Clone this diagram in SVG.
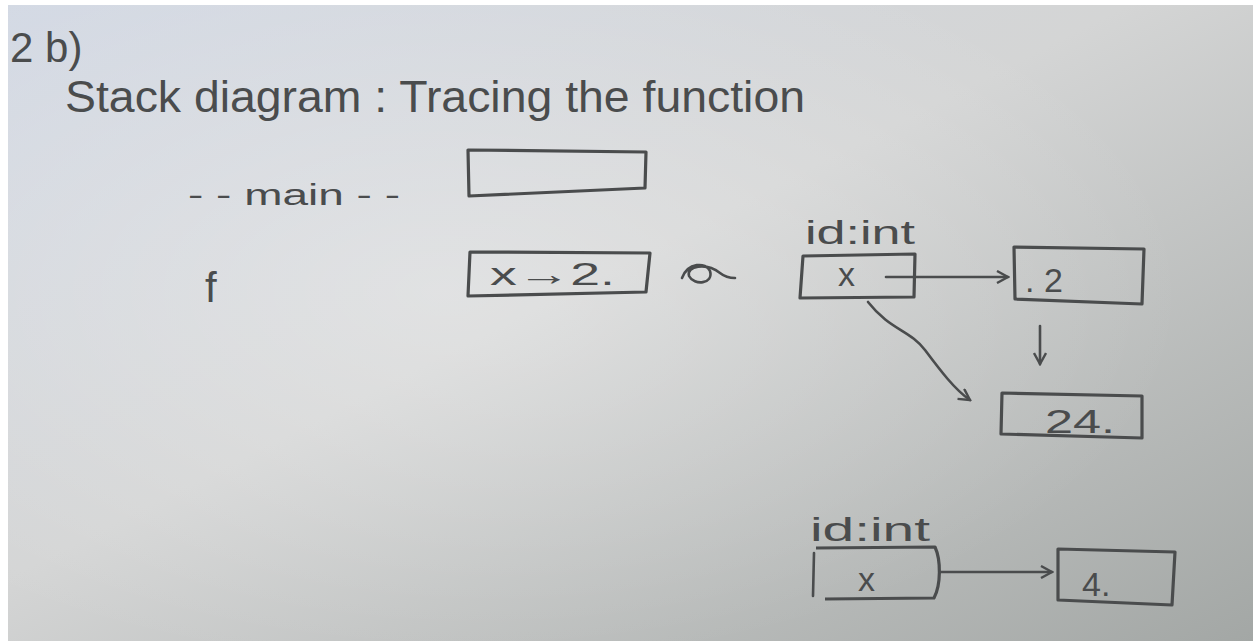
<svg xmlns="http://www.w3.org/2000/svg" width="1253" height="641" viewBox="0 0 1253 641">
<defs>
<linearGradient id="paper" x1="0" y1="0" x2="1" y2="1">
<stop offset="0" stop-color="#d3d9e4"/>
<stop offset="0.45" stop-color="#d4d5d5"/>
<stop offset="1" stop-color="#a3a7a5"/>
</linearGradient>
<radialGradient id="glow" cx="0.35" cy="0.45" r="0.6">
<stop offset="0" stop-color="#ffffff" stop-opacity="0.3"/>
<stop offset="1" stop-color="#ffffff" stop-opacity="0"/>
</radialGradient>
<marker id="ah" viewBox="0 0 14 14" refX="12" refY="7" markerWidth="14" markerHeight="14" markerUnits="userSpaceOnUse" orient="auto">
<path d="M1,1 L12,7 L1,13" fill="none" stroke="#4a4c4d" stroke-width="2.4"/>
</marker>
<style>
.t{font-family:"Liberation Sans",Arial,sans-serif;fill:#4a4c4d;}
.box{fill:none;stroke:#4a4c4d;stroke-width:3.2;stroke-linejoin:round;}
.ln{fill:none;stroke:#4a4c4d;stroke-width:2.6;stroke-linecap:round;}
</style>
</defs>
<rect width="1253" height="641" fill="#ffffff"/>
<rect x="8" y="5" width="1245" height="636" fill="url(#paper)"/>
<rect x="8" y="5" width="1245" height="636" fill="url(#glow)"/>

<g id="header">
<text class="t" x="10" y="62" font-size="42">2 b)</text>
<text class="t" x="65" y="112" font-size="44" textLength="740" lengthAdjust="spacingAndGlyphs">Stack diagram : Tracing the function</text>
</g>

<g id="frame-main">
<text class="t" x="188" y="205" font-size="30" textLength="212" lengthAdjust="spacingAndGlyphs">- - main - -</text>
<path class="box" d="M468,150 L646,152 L645,188 L469,196 Z"/>
</g>

<g id="frame-f">
<text class="t" x="205" y="302" font-size="42">f</text>
<path class="box" d="M470,252 L650,253 L646,292 L468,296 Z"/>
<text class="t" x="490" y="285" font-size="32" textLength="125" lengthAdjust="spacingAndGlyphs">x→2.</text>
<path class="ln" d="M682,278 C688,262 706,262 710,271 C714,284 694,286 689,276 C686,266 706,262 720,273 C725,277 731,278 735,278" stroke-width="3.4"/>
</g>

<g id="var-x1">
<text class="t" x="805" y="244" font-size="34" textLength="110" lengthAdjust="spacingAndGlyphs">id:int</text>
<path class="box" d="M803,256 L915,254 L914,297 L800,298 Z"/>
<text class="t" x="838" y="286" font-size="34">x</text>
</g>

<g id="obj-2">
<path class="box" d="M1014,247 L1144,249 L1142,304 L1015,299 Z"/>
<text class="t" x="1025" y="292" font-size="34">. 2</text>
</g>

<g id="obj-24">
<path class="box" d="M1002,393 L1142,396 L1142,438 L1001,434 Z"/>
<text class="t" x="1045" y="433" font-size="34" textLength="70" lengthAdjust="spacingAndGlyphs">24.</text>
</g>

<g id="var-x2">
<text class="t" x="810" y="541" font-size="34" textLength="120" lengthAdjust="spacingAndGlyphs">id:int</text>
<path class="box" d="M816,548 L935,547 C941,560 941,585 934,598 L825,599"/>
<path class="ln" d="M814,553 L813,596" stroke-width="3.2"/>
<text class="t" x="858" y="591" font-size="34">x</text>
</g>

<g id="obj-4">
<path class="box" d="M1058,549 L1175,552 L1172,605 L1058,600 Z"/>
<text class="t" x="1082" y="596" font-size="34">4.</text>
</g>

<g id="connectors">
<path class="ln" d="M886,277 L1008,277" marker-end="url(#ah)"/>
<path class="ln" d="M1040,326 L1040,364" marker-end="url(#ah)"/>
<path class="ln" d="M868,302 C890,330 910,330 925,350 C940,370 955,390 970,400" marker-end="url(#ah)"/>
<path class="ln" d="M940,572 L1052,572" marker-end="url(#ah)"/>
</g>
</svg>
